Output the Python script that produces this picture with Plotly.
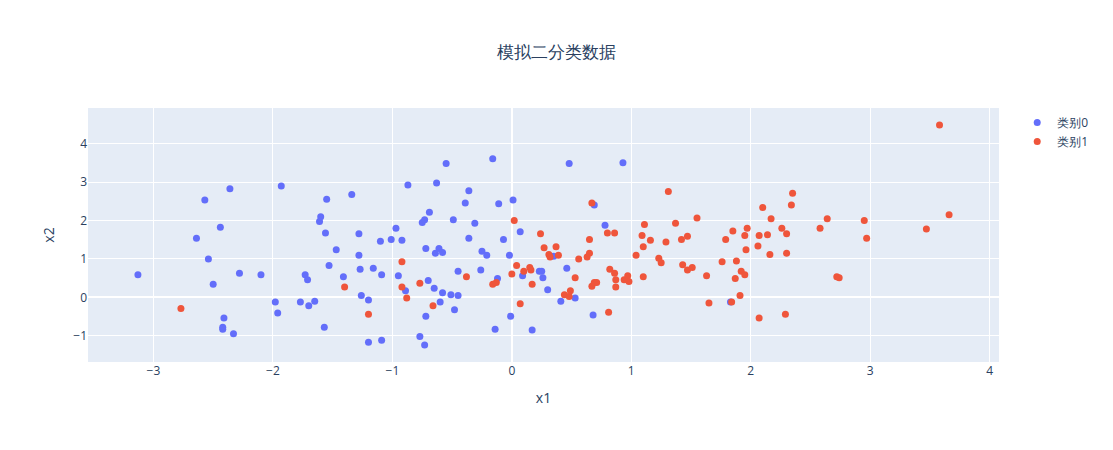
import plotly.graph_objects as go

x0 = [-3.13,-2.36,-2.57,-2.44,-2.64,-2.54,-2.28,-2.10,-2.50,-1.93,-1.55,-1.34,-1.60,-1.61,-1.56,-1.28,-1.47,-1.28,-1.53,-1.73,
      -1.71,-1.41,-1.27,-1.16,-1.09,-0.97,-1.01,-1.10,-0.92,-0.95,-1.98,-1.96,-1.77,-1.70,-1.65,-1.26,-1.20,-2.41,-2.42,-2.42,
      -2.33,-1.57,-1.20,-1.09,-0.55,-0.87,-0.63,-0.16,-0.36,-0.39,-0.11,0.01,-0.69,-0.73,-0.75,-0.49,-0.31,-0.36,-0.07,0.07,
      -0.72,-0.61,-0.64,-0.58,-0.25,-0.21,-0.02,-0.45,-0.26,-0.70,-0.65,-0.58,-0.51,-0.45,-0.60,-0.48,-0.72,-0.89,-0.77,-0.73,
      -0.14,-0.01,0.17,-0.12,0.09,0.23,0.25,0.26,0.30,0.41,0.35,0.46,0.48,0.93,0.69,0.78,0.53,0.68,1.83]
y0 = [0.59,2.83,2.54,1.83,1.54,1.00,0.63,0.59,0.34,2.90,2.56,2.68,2.10,1.98,1.68,1.66,1.24,1.10,0.83,0.59,
      0.46,0.54,0.73,0.76,0.59,1.80,1.51,1.46,1.49,0.56,-0.12,-0.41,-0.12,-0.22,-0.10,0.05,-0.07,-0.54,-0.78,-0.83,
      -0.95,-0.78,-1.17,-1.12,3.49,2.93,2.98,3.61,2.78,2.46,2.44,2.54,2.22,2.02,1.95,2.02,1.93,1.54,1.51,1.71,
      1.27,1.27,1.15,1.17,1.20,1.10,1.10,0.68,0.71,0.44,0.24,0.12,0.07,0.05,-0.12,-0.32,-0.49,0.17,-1.02,-1.24,
      -0.83,-0.49,-0.85,0.49,0.56,0.68,0.68,0.51,0.20,-0.10,1.07,0.76,3.49,3.51,2.41,1.88,-0.02,-0.46,-0.12]

x1 = [-2.77,-1.40,-1.20,-0.92,-0.92,-0.88,-0.77,-0.66,-0.38,-0.16,-0.13,0.00,0.02,0.04,0.10,0.15,0.16,0.17,0.07,0.24,
      0.27,0.31,0.32,0.37,0.39,0.44,0.48,0.49,0.53,0.67,0.65,0.65,0.63,0.56,0.80,0.86,0.82,0.86,0.87,0.87,
      0.67,0.69,0.71,0.81,0.94,0.97,0.98,1.04,1.10,1.09,1.11,1.16,1.31,1.29,1.37,1.42,1.47,1.55,1.23,1.25,
      1.43,1.47,1.51,1.10,1.63,1.65,1.76,1.79,1.85,1.88,1.87,1.84,3.58,2.35,2.34,2.10,2.17,2.64,2.95,3.66,
      3.47,2.58,2.97,1.97,2.26,2.30,2.14,2.07,1.95,2.06,1.96,2.16,2.30,1.92,1.95,1.91,2.72,2.74,2.07,2.29]
y1 = [-0.29,0.27,-0.44,0.93,0.27,-0.02,0.37,-0.22,0.54,0.34,0.39,0.61,2.00,0.83,0.68,0.78,0.71,0.34,-0.17,1.66,
      1.29,1.12,1.05,1.32,1.10,0.07,0.02,0.17,0.51,2.46,1.51,1.15,1.05,1.00,1.68,1.68,0.73,0.63,0.46,0.27,
      0.29,0.39,0.39,-0.39,0.46,0.56,0.41,1.10,1.32,1.61,1.90,1.49,2.76,1.44,1.93,1.51,1.59,2.07,1.02,0.90,
      0.85,0.71,0.78,0.54,0.56,-0.15,0.93,1.51,1.73,0.95,0.49,-0.12,4.49,2.71,2.41,2.34,2.05,2.05,2.00,2.15,
      1.78,1.80,1.54,1.80,1.80,1.66,1.63,1.61,1.61,1.34,1.24,1.12,1.15,0.68,0.59,0.05,0.54,0.51,-0.54,-0.44]

fig = go.Figure()
fig.add_trace(go.Scatter(x=x0, y=y0, mode="markers", name="类别0", marker=dict(size=7)))
fig.add_trace(go.Scatter(x=x1, y=y1, mode="markers", name="类别1", marker=dict(size=7)))
fig.update_layout(
    title=dict(text="模拟二分类数据", x=0.5),
    xaxis_title="x1", yaxis_title="x2",
)
fig.write_html("out.html")
